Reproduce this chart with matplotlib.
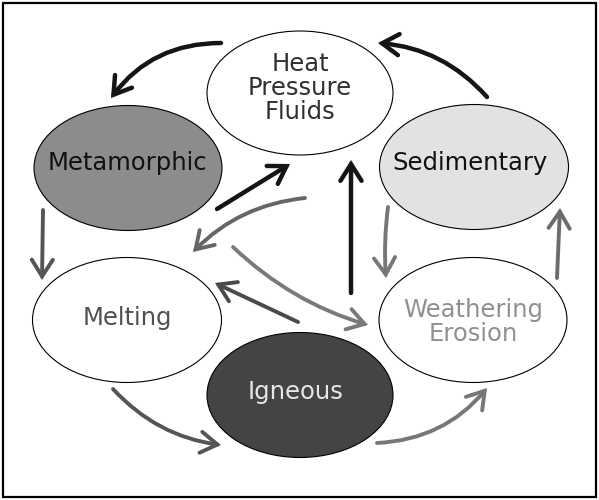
import matplotlib
matplotlib.use("Agg")
import matplotlib.pyplot as plt
from matplotlib.patches import Ellipse, Rectangle, FancyArrowPatch, ArrowStyle

# ---- data ----
node_labels = ["Heat\nPressure\nFluids", "Metamorphic", "Sedimentary", "Melting",
               "Weathering\nErosion", "Igneous"]
node_x = [300, 128, 474, 127, 473, 300]
node_y = [93, 168, 167, 320, 320, 395]
node_w = [186, 188, 189, 189, 188, 186]
node_h = [124, 125, 125, 125, 125, 125]
node_fill = ["#ffffff", "#8c8c8c", "#e2e2e2", "#ffffff", "#ffffff", "#444444"]
node_text_color = ["#303030", "#111111", "#111111", "#505050", "#909090", "#e6e6e6"]
text_x = [300, 127, 470, 127, 473, 296]
text_y = [88, 163, 163, 318, 322, 392]

arrow_tail_x = [221, 487, 217, 351, 305, 233, 298, 43, 113, 377, 388, 557]
arrow_tail_y = [43, 97, 209, 293, 198, 247, 322, 210, 389, 443, 207, 278]
arrow_head_x = [111, 378, 290, 351, 193, 368, 215, 42, 221, 487, 386, 560]
arrow_head_y = [98, 43, 164, 160, 252, 325, 283, 280, 445, 388, 278, 208]
arrow_rad = [0.25, 0.2, 0.0, 0.0, 0.18, 0.12, 0.0, 0.0, 0.18, 0.22, 0.05, 0.0]
arrow_color = ["#151515", "#151515", "#151515", "#151515", "#666666", "#7a7a7a",
               "#4a4a4a", "#555555", "#555555", "#777777", "#777777", "#6c6c6c"]

W, H = 599, 500
fig = plt.figure(figsize=(W / 100, H / 100), dpi=100)
ax = fig.add_axes([0, 0, 1, 1])
ax.set_xlim(0, W)
ax.set_ylim(H, 0)
ax.axis("off")

ax.add_patch(Rectangle((3, 3), W - 6, H - 6, fill=False, edgecolor="black", linewidth=1.6))

for lbl, x, y, w, h, fc, tc, tx, ty in zip(node_labels, node_x, node_y, node_w, node_h,
                                            node_fill, node_text_color, text_x, text_y):
    ax.add_patch(Ellipse((x, y), w, h, facecolor=fc, edgecolor="black", linewidth=0.8, zorder=2))
    ax.text(tx, ty, lbl, ha="center", va="center", fontsize=17.5, color=tc,
            family="DejaVu Sans", linespacing=0.98, zorder=3)

style = ArrowStyle("->", head_length=0.6, head_width=0.38)
for x0, y0, x1, y1, r, c in zip(arrow_tail_x, arrow_tail_y, arrow_head_x, arrow_head_y,
                                arrow_rad, arrow_color):
    lw = 3.2 if c == "#151515" else 2.8
    ax.add_patch(FancyArrowPatch((x0, y0), (x1, y1), arrowstyle=style, mutation_scale=20,
                                 connectionstyle=f"arc3,rad={r}", color=c, linewidth=lw,
                                 shrinkA=0, shrinkB=0, capstyle="round", joinstyle="miter",
                                 zorder=4))

fig.savefig("out.png", dpi=100, facecolor="white")
